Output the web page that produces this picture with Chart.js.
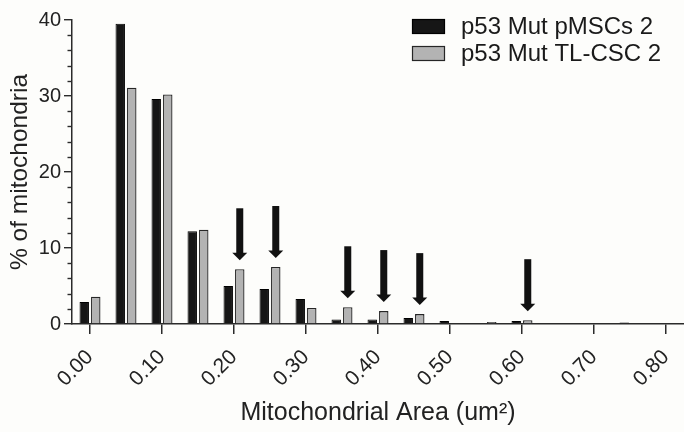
<!DOCTYPE html>
<html>
<head>
<meta charset="utf-8">
<script src="https://cdn.jsdelivr.net/npm/chart.js@4.4.0/dist/chart.umd.min.js"></script>
<style>
  html, body { margin: 0; padding: 0; background: #fdfdfb; }
</style>
</head>
<body>
<canvas id="chart" width="684" height="432"></canvas>
<script>
/* ---------- data ---------- */
const binLabels = ['0.00', '0.05', '0.10', '0.15', '0.20', '0.25', '0.30', '0.35', '0.40',
                   '0.45', '0.50', '0.55', '0.60', '0.65', '0.70', '0.75', '0.80'];
const pmscValues  = [2.9, 39.5, 29.6, 12.2, 5.0, 4.6, 3.3, 0.6, 0.6, 0.8, 0.4, 0, 0.4, 0, 0, 0.2, 0];
const tlcscValues = [3.6, 31.1, 30.2, 12.4, 7.2, 7.5, 2.1, 2.2, 1.7, 1.3, 0, 0.25, 0.5, 0, 0, 0, 0];
const arrowBins = ['0.20', '0.25', '0.35', '0.40', '0.45', '0.60'];
const seriesNames = ['p53 Mut pMSCs 2', 'p53 Mut TL-CSC 2'];
const yMajorTicks = [0, 10, 20, 30, 40];

const FONT = "'Liberation Sans', Arial, sans-serif";
const INK = '#2b2b2b';

// background fill
const bgPlugin = {
  id: 'bg',
  beforeDraw(chart) {
    const c = chart.ctx;
    c.save();
    c.fillStyle = '#fdfdfb';
    c.fillRect(0, 0, chart.width, chart.height);
    c.restore();
  }
};

// short minor ticks on the y axis
const minorTicks = {
  id: 'minorTicks',
  afterDraw(chart) {
    const y = chart.scales.y, c = chart.ctx;
    c.save();
    c.strokeStyle = INK;
    c.lineWidth = 1.4;
    y.ticks.forEach(t => {
      if (yMajorTicks.includes(t.value)) return;
      const py = Math.round(y.getPixelForValue(t.value)) + 0.5;
      c.beginPath();
      c.moveTo(y.right - 4.5, py);
      c.lineTo(y.right, py);
      c.stroke();
    });
    c.restore();
  }
};

// arrows pointing at the TL-CSC bars
const arrows = {
  id: 'arrows',
  afterDatasetsDraw(chart) {
    const meta = chart.getDatasetMeta(1), c = chart.ctx;
    c.save();
    c.fillStyle = '#111';
    arrowBins.forEach(b => {
      const el = meta.data[binLabels.indexOf(b)];
      const x = el.x, tip = el.y - 9, top = tip - 52;
      c.fillRect(x - 3.5, top, 7, 52 - 7);
      c.beginPath();
      c.moveTo(x - 7.5, tip - 7.5);
      c.lineTo(x + 7.5, tip - 7.5);
      c.lineTo(x, tip);
      c.closePath();
      c.fill();
    });
    c.restore();
  }
};

// legend, top right
const legendBox = {
  id: 'legendBox',
  afterDraw(chart) {
    const c = chart.ctx;
    c.save();
    c.font = '24px ' + FONT;
    c.textBaseline = 'middle';
    chart.data.datasets.forEach((ds, i) => {
      const by = 19 + i * 27;
      c.fillStyle = ds.backgroundColor;
      c.fillRect(412, by, 33, 15);
      c.strokeStyle = ds.borderColor;
      c.lineWidth = 1.2;
      c.strokeRect(412.5, by + 0.5, 32, 14);
      c.fillStyle = '#1a1a1a';
      c.fillText(ds.label, 461, by + 8);
    });
    c.restore();
  }
};

new Chart(document.getElementById('chart'), {
  type: 'bar',
  data: {
    labels: binLabels,
    datasets: [
      {
        label: seriesNames[0],
        data: pmscValues,
        backgroundColor: '#161616',
        borderColor: '#000000',
        borderWidth: 1
      },
      {
        label: seriesNames[1],
        data: tlcscValues,
        backgroundColor: '#b3b3b3',
        borderColor: '#262626',
        borderWidth: 1.3
      }
    ]
  },
  options: {
    responsive: false,
    animation: false,
    devicePixelRatio: 1,
    layout: { padding: { top: 20, left: 0, right: 0, bottom: 0 } },
    datasets: { bar: { categoryPercentage: 0.64, barPercentage: 0.82 } },
    plugins: {
      legend: { display: false },
      tooltip: { enabled: false }
    },
    scales: {
      x: {
        offset: true,
        border: { color: INK, width: 1.5 },
        grid: {
          offset: false,
          drawOnChartArea: false,
          tickLength: 10,
          lineWidth: 1.5,
          color: ctx => (ctx.index % 2 === 0 ? INK : 'rgba(0,0,0,0)')
        },
        ticks: {
          autoSkip: false,
          minRotation: 45,
          maxRotation: 45,
          padding: 11,
          color: '#222',
          font: { family: FONT, size: 21 },
          callback: (v, i) => (i % 2 === 0 ? binLabels[i] : '')
        },
        title: {
          display: true,
          text: 'Mitochondrial Area (um\u00B2)',
          color: '#222',
          font: { family: FONT, size: 25 },
          padding: { top: 4, bottom: 4 }
        },
        afterFit(scale) {
          scale.height = 108;
          scale.paddingLeft = 0;
          scale.paddingRight = 0;
        }
      },
      y: {
        min: 0,
        max: 40,
        border: { color: INK, width: 1.5 },
        grid: {
          drawOnChartArea: false,
          tickLength: 8,
          lineWidth: 1.4,
          color: ctx => (ctx.tick && yMajorTicks.includes(ctx.tick.value) ? INK : 'rgba(0,0,0,0)')
        },
        ticks: {
          stepSize: 2,
          autoSkip: false,
          padding: 3,
          color: '#222',
          font: { family: FONT, size: 20 },
          callback: v => (yMajorTicks.includes(v) ? v : '')
        },
        title: {
          display: true,
          text: '% of mitochondria',
          color: '#222',
          font: { family: FONT, size: 24.5 },
          padding: { top: 6, bottom: 4 }
        },
        afterFit(scale) {
          scale.width = 72;
          scale.paddingTop = 0;
          scale.paddingBottom = 0;
        }
      }
    }
  },
  plugins: [bgPlugin, arrows, minorTicks, legendBox]
});
</script>
</body>
</html>
